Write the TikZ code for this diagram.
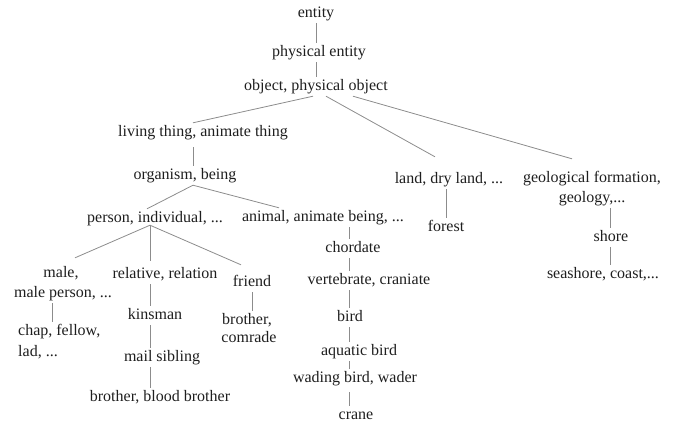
\documentclass[tikz,border=0pt]{standalone}
\usepackage{fontspec}
\setmainfont{Liberation Serif}
\usetikzlibrary{calc}
\definecolor{linec}{RGB}{140,140,140}
\definecolor{textc}{RGB}{30,30,30}
\begin{document}
\begin{tikzpicture}[x=1pt,y=-1pt,
  lbl/.style={anchor=base, inner xsep=1pt, inner ysep=3pt, text height=10pt, text depth=3pt,
              font=\fontsize{16}{19}\selectfont, text=textc},
  lleft/.style={lbl, anchor=base west, inner xsep=0pt},
  edge/.style={draw=linec, line width=0.8pt}]
\useasboundingbox (0,0) rectangle (678,424);

% nodes
\node[lbl] (entity) at (316,17) {entity};
\node[lbl] (phys) at (319,56) {physical entity};
\node[lbl] (obj) at (316,90) {object, physical object};
\node[lbl] (living) at (203,136) {living thing, animate thing};
\node[lbl] (org) at (185,179) {organism, being};
\node[lbl] (person) at (155,222) {person, individual, ...};
\node[lbl] (animal) at (323,221) {animal, animate being, ...};
\node[lbl] (land) at (449,183) {land, dry land, ...};
\node[lbl] (forest) at (446,231) {forest};
\node[lbl] (geoA) at (592,182) {geological formation,};
\node[lbl] (geoB) at (592,202) {geology,...};
\node[lbl] (shore) at (611,241) {shore};
\node[lbl] (seashore) at (603,278) {seashore, coast,...};
\node[lbl] (maleA) at (61,277) {male,};
\node[lbl] (maleB) at (63,297) {male person, ...};
\node[lleft] (chapA) at (18,335) {chap, fellow,};
\node[lleft] (chapB) at (18,356) {lad, ...};
\node[lbl] (relative) at (165,278) {relative, relation};
\node[lbl] (kinsman) at (155,319) {kinsman};
\node[lbl] (mail) at (162,361) {mail sibling};
\node[lbl] (bb) at (160,401) {brother, blood brother};
\node[lbl] (friend) at (252,286) {friend};
\node[lbl] (brA) at (247,324) {brother,};
\node[lbl] (brB) at (249,342) {comrade};
\node[lbl] (chordate) at (353,252) {chordate};
\node[lbl] (vert) at (369,284) {vertebrate, craniate};
\node[lbl] (bird) at (350,321) {bird};
\node[lbl] (aqua) at (359,355) {aquatic bird};
\node[lbl] (wading) at (355,382) {wading bird, wader};
\node[lbl] (crane) at (356,419) {crane};

% spine x positions
\coordinate (xa) at (316,0);
\coordinate (xb) at (193,0);
\coordinate (xr) at (150,0);
\coordinate (xm) at (52,0);
\coordinate (xf) at (252,0);
\coordinate (xs) at (349,0);
\coordinate (xl) at (446,0);
\coordinate (xg) at (610,0);

% connectors
\draw[edge] (entity.south -| xa) -- (phys.north -| xa);
\draw[edge] (phys.south -| xa) -- (obj.north -| xa);
\draw[edge] ([xshift=-3pt]obj.south) -- ([xshift=-10pt]living.north);
\draw[edge] ([xshift=10pt]obj.south) -- ([xshift=-14pt,yshift=13pt]land.north);
\draw[edge] ([xshift=37pt]obj.south) -- ([xshift=-20pt,yshift=10pt]geoA.north);
\draw[edge] ($(living.south -| xb)+(0,5)$) -- (org.north -| xb);
\draw[edge] ([xshift=8pt]org.south) -- ([xshift=-8pt]person.north);
\draw[edge] ([xshift=8pt]org.south) -- ([xshift=-44pt]animal.north);
\draw[edge] ($(person.south -| xr)+(0,-3)$) -- ([xshift=14pt,yshift=6pt]maleA.north);
\draw[edge] ($(person.south -| xr)+(0,-3)$) -- ($(relative.north -| xr)+(0,-4)$);
\draw[edge] ($(person.south -| xr)+(0,-3)$) -- ([xshift=-11pt,yshift=8pt]friend.north);
\draw[edge] (maleB.south -| xm) -- (chapA.north -| xm);
\draw[edge] (relative.south -| xr) -- (kinsman.north -| xr);
\draw[edge] (kinsman.south -| xr) -- (mail.north -| xr);
\draw[edge] (mail.south -| xr) -- (bb.north -| xr);
\draw[edge] (friend.south -| xf) -- (brA.north -| xf);
\draw[edge] (animal.south -| xs) -- (chordate.north -| xs);
\draw[edge] (chordate.south -| xs) -- (vert.north -| xs);
\draw[edge] (vert.south -| xs) -- (bird.north -| xs);
\draw[edge] (bird.south -| xs) -- (aqua.north -| xs);
\draw[edge] (aqua.south -| xs) -- (wading.north -| xs);
\draw[edge] ($(wading.south -| xs)+(0,4)$) -- (crane.north -| xs);
\draw[edge] (land.south -| xl) -- (forest.north -| xl);
\draw[edge] (geoB.south -| xg) -- (shore.north -| xg);
\draw[edge] (shore.south -| xg) -- (seashore.north -| xg);
\end{tikzpicture}
\end{document}
